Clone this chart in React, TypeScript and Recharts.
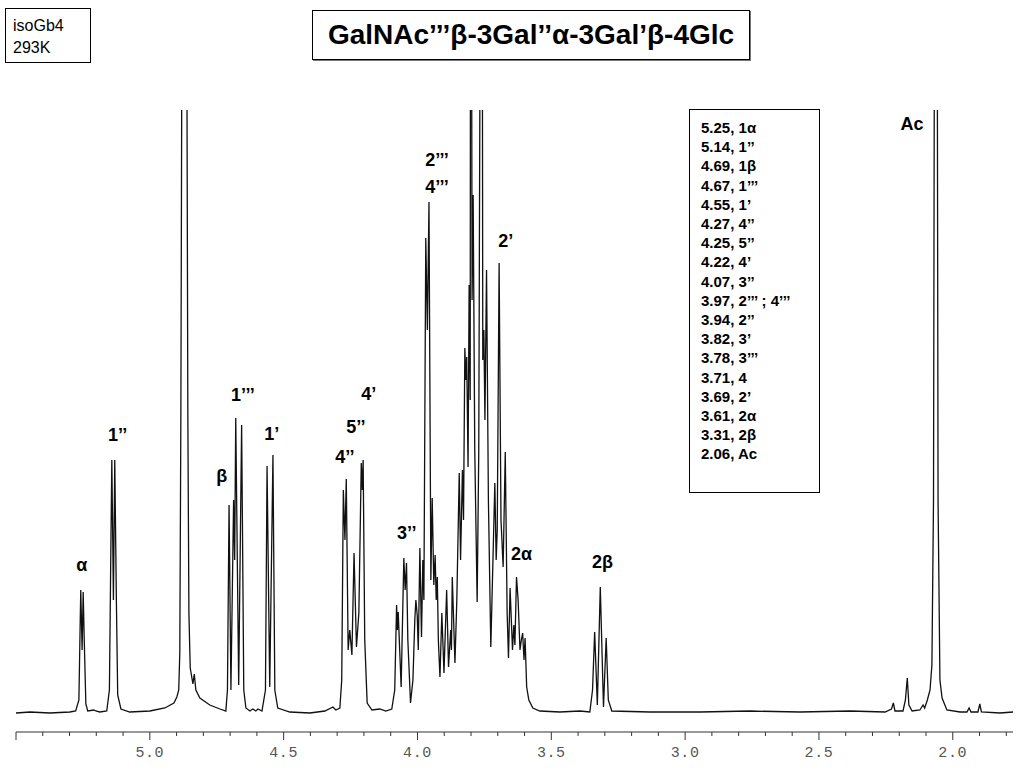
import { LineChart, Line, XAxis, YAxis, ReferenceDot } from 'recharts';

// chemical shift (ppm) and signal height
const shiftPpm = [
  5.5, 5.448, 5.374, 5.299, 5.277, 5.265, 5.26, 5.258, 5.253, 5.249, 5.245, 5.239, 5.232, 5.209, 5.202, 5.187,
  5.161, 5.151, 5.146, 5.142, 5.136, 5.131, 5.125, 5.12, 5.108, 5.075, 5.0, 4.944, 4.91, 4.899, 4.892, 4.888,
  4.884, 4.871, 4.858, 4.854, 4.849, 4.839, 4.834, 4.828, 4.813, 4.776, 4.738, 4.716, 4.71, 4.704, 4.697, 4.687,
  4.683, 4.679, 4.668, 4.657, 4.649, 4.641, 4.626, 4.615, 4.604, 4.596, 4.581, 4.568, 4.562, 4.552, 4.54, 4.533,
  4.522, 4.477, 4.402, 4.346, 4.316, 4.305, 4.29, 4.283, 4.277, 4.271, 4.266, 4.259, 4.253, 4.245, 4.237, 4.228,
  4.219, 4.21, 4.206, 4.203, 4.197, 4.188, 4.17, 4.141, 4.118, 4.096, 4.085, 4.078, 4.075, 4.072, 4.061, 4.051,
  4.046, 4.041, 4.036, 4.026, 4.017, 4.01, 4.006, 4.001, 3.997, 3.991, 3.985, 3.98, 3.976, 3.969, 3.963, 3.957,
  3.95, 3.945, 3.939, 3.934, 3.93, 3.926, 3.922, 3.916, 3.909, 3.901, 3.891, 3.884, 3.876, 3.873, 3.87, 3.86,
  3.853, 3.844, 3.839, 3.832, 3.828, 3.823, 3.819, 3.816, 3.811, 3.807, 3.803, 3.801, 3.796, 3.792, 3.786, 3.777,
  3.771, 3.76, 3.756, 3.752, 3.748, 3.742, 3.735, 3.726, 3.718, 3.711, 3.706, 3.702, 3.695, 3.688, 3.685, 3.68,
  3.672, 3.665, 3.66, 3.654, 3.645, 3.64, 3.636, 3.63, 3.624, 3.617, 3.612, 3.607, 3.602, 3.598, 3.592, 3.584,
  3.569, 3.543, 3.468, 3.393, 3.356, 3.346, 3.338, 3.328, 3.317, 3.305, 3.295, 3.287, 3.274, 3.132, 2.945, 2.758,
  2.571, 2.384, 2.253, 2.229, 2.222, 2.216, 2.186, 2.177, 2.17, 2.164, 2.152, 2.123, 2.111, 2.105, 2.095, 2.085,
  2.078, 2.072, 2.063, 2.055, 2.048, 2.04, 2.022, 1.973, 1.947, 1.939, 1.932, 1.906, 1.899, 1.893, 1.824, 1.775,
];

const signal = [
  0, 1, 0, 1, 2, 13, 93, 123, 63, 121, 73, 9, 2, 3, 2, 1,
  2, 23, 153, 253, 113, 253, 113, 18, 4, 1, 2, 5, 10, 16, 23, 60,
  300, 1600, 300, 100, 45, 29, 39, 23, 15, 8, 4, 2, 23, 208, 23, 213,
  153, 295, 28, 288, 23, 5, 2, 4, 2, 4, 2, 23, 247, 26, 258, 23,
  5, 1, 0, 2, 6, 3, 5, 33, 223, 173, 234, 63, 83, 58, 160, 66,
  100, 250, 223, 253, 73, 10, 3, 4, 2, 4, 23, 108, 83, 101, 26, 155,
  123, 150, 73, 10, 33, 93, 113, 98, 63, 165, 76, 153, 113, 475, 383, 511,
  133, 215, 128, 158, 113, 136, 73, 36, 100, 40, 123, 46, 83, 63, 136, 50,
  113, 240, 153, 243, 193, 365, 333, 356, 246, 428, 313, 1200, 413, 518, 263, 111,
  263, 1200, 353, 383, 293, 443, 213, 66, 153, 230, 153, 183, 450, 193, 176, 146,
  261, 100, 55, 125, 63, 88, 68, 136, 113, 63, 73, 80, 53, 75, 26, 13,
  5, 2, 1, 2, 1, 23, 81, 8, 126, 6, 75, 13, 2, 1, 1, 2,
  1, 2, 1, 4, 10, 2, 2, 13, 35, 8, 2, 3, 8, 5, 13, 23,
  48, 213, 1500, 213, 33, 15, 3, 1, 1, 5, 1, 1, 9, 1, 0, 1,
];

const spectrum = shiftPpm.map((p, i) => ({ ppm: p, y: signal[i] }));

const ppmTicks = [5.5, 5.4, 5.3, 5.2, 5.1, 5.0, 4.9, 4.8, 4.7, 4.6, 4.5, 4.4, 4.3, 4.2, 4.1, 4.0, 3.9, 3.8, 3.7, 3.6,
  3.5, 3.4, 3.3, 3.2, 3.1, 3.0, 2.9, 2.8, 2.7, 2.6, 2.5, 2.4, 2.3, 2.2, 2.1, 2.0, 1.9, 1.8];
const longTicks = ['5.5', '5.0', '4.5', '4.0', '3.5', '3.0', '2.5', '2.0'];
const tickLabels = ['5.0', '4.5', '4.0', '3.5', '3.0', '2.5', '2.0'];

const peakLabels = [
  { text: 'α', ppm: 5.254, y: 148 },
  { text: '1’’', ppm: 5.12, y: 278 },
  { text: 'β', ppm: 4.731, y: 237 },
  { text: '1’’’', ppm: 4.652, y: 318 },
  { text: '1’', ppm: 4.544, y: 279 },
  { text: '4’’', ppm: 4.271, y: 256 },
  { text: '5’’', ppm: 4.23, y: 286 },
  { text: '4’', ppm: 4.182, y: 319 },
  { text: '3’’', ppm: 4.04, y: 180 },
  { text: '2’’’', ppm: 3.927, y: 553 },
  { text: '4’’’', ppm: 3.927, y: 526 },
  { text: '2’', ppm: 3.67, y: 472 },
  { text: '2α', ppm: 3.611, y: 159 },
  { text: '2β', ppm: 3.309, y: 151 },
  { text: 'Ac', ppm: 2.152, y: 589 },
];

const shiftValues = ['5.25', '5.14', '4.69', '4.67', '4.55', '4.27', '4.25', '4.22', '4.07',
  '3.97', '3.94', '3.82', '3.78', '3.71', '3.69', '3.61', '3.31', '2.06'];
const assignments = ['1α', '1’’', '1β', '1’’’', '1’', '4’’', '5’’', '4’', '3’’',
  '2’’’ ; 4’’’', '2’’', '3’', '3’’’', '4', '2’', '2α', '2β', 'Ac'];

const sans = '"Liberation Sans", Arial, sans-serif';

function PpmTick({ x, y, payload }: any) {
  const key = Number(payload.value).toFixed(1);
  const long = longTicks.includes(key);
  return (
    <g>
      <line x1={x} x2={x} y1={y} y2={y + (long ? 8 : 4)} stroke="#333" strokeWidth={1} />
      {tickLabels.includes(key) && (
        <text x={x} y={y + 25} textAnchor="middle" fontFamily='"Liberation Mono", monospace' fontSize={15}
          letterSpacing={0.6} fill="#555">
          {key}
        </text>
      )}
    </g>
  );
}

function PeakText(text: string) {
  return (props: any) => (
    <text x={props.cx} y={props.cy} textAnchor="middle" dominantBaseline="central"
      fontFamily={sans} fontWeight={700} fontSize={18} fill="#000">
      {text}
    </text>
  );
}

const box = { position: 'absolute' as const, border: '1px solid #000', background: '#fff', boxSizing: 'border-box' as const };

export default function App() {
  return (
    <div style={{ position: 'absolute', left: 0, top: 0, width: 1024, height: 768, background: '#fff', fontFamily: sans }}>
      <LineChart width={1024} height={768} data={spectrum} margin={{ top: 110, right: 11, bottom: 6, left: 16 }}>
        <XAxis dataKey="ppm" type="number" domain={[1.775, 5.5]} reversed allowDataOverflow
          ticks={ppmTicks} interval={0} tick={<PpmTick />} tickLine={false} tickSize={0} tickMargin={0}
          height={30} axisLine={{ stroke: '#333' }} />
        <YAxis hide type="number" domain={[-19, 603]} allowDataOverflow />
        <Line type="linear" dataKey="y" stroke="#111" strokeWidth={1.3} dot={false} isAnimationActive={false} />
        {peakLabels.map((l) => (
          <ReferenceDot key={l.text + l.ppm} x={l.ppm} y={l.y} r={0} ifOverflow="visible" shape={PeakText(l.text)} />
        ))}
      </LineChart>

      <div style={{ ...box, left: 5, top: 8, width: 86, height: 55, padding: '6px 0 0 7px', fontSize: 16, lineHeight: '22px' }}>
        <div>isoGb4</div>
        <div>293K</div>
      </div>

      <div style={{ ...box, left: 312, top: 10, width: 438, height: 50, boxShadow: '1px 1px 0 #777',
        display: 'flex', alignItems: 'center', justifyContent: 'center', fontSize: 28, fontWeight: 700 }}>
        GalNAc’’’β-3Gal’’α-3Gal’β-4Glc
      </div>

      <div style={{ ...box, left: 689, top: 109, width: 131, height: 384, padding: '8px 0 0 11px',
        fontSize: 15, fontWeight: 700, lineHeight: '19.2px' }}>
        {shiftValues.map((v, i) => (
          <div key={v + i}>{v}, {assignments[i]}</div>
        ))}
      </div>
    </div>
  );
}
